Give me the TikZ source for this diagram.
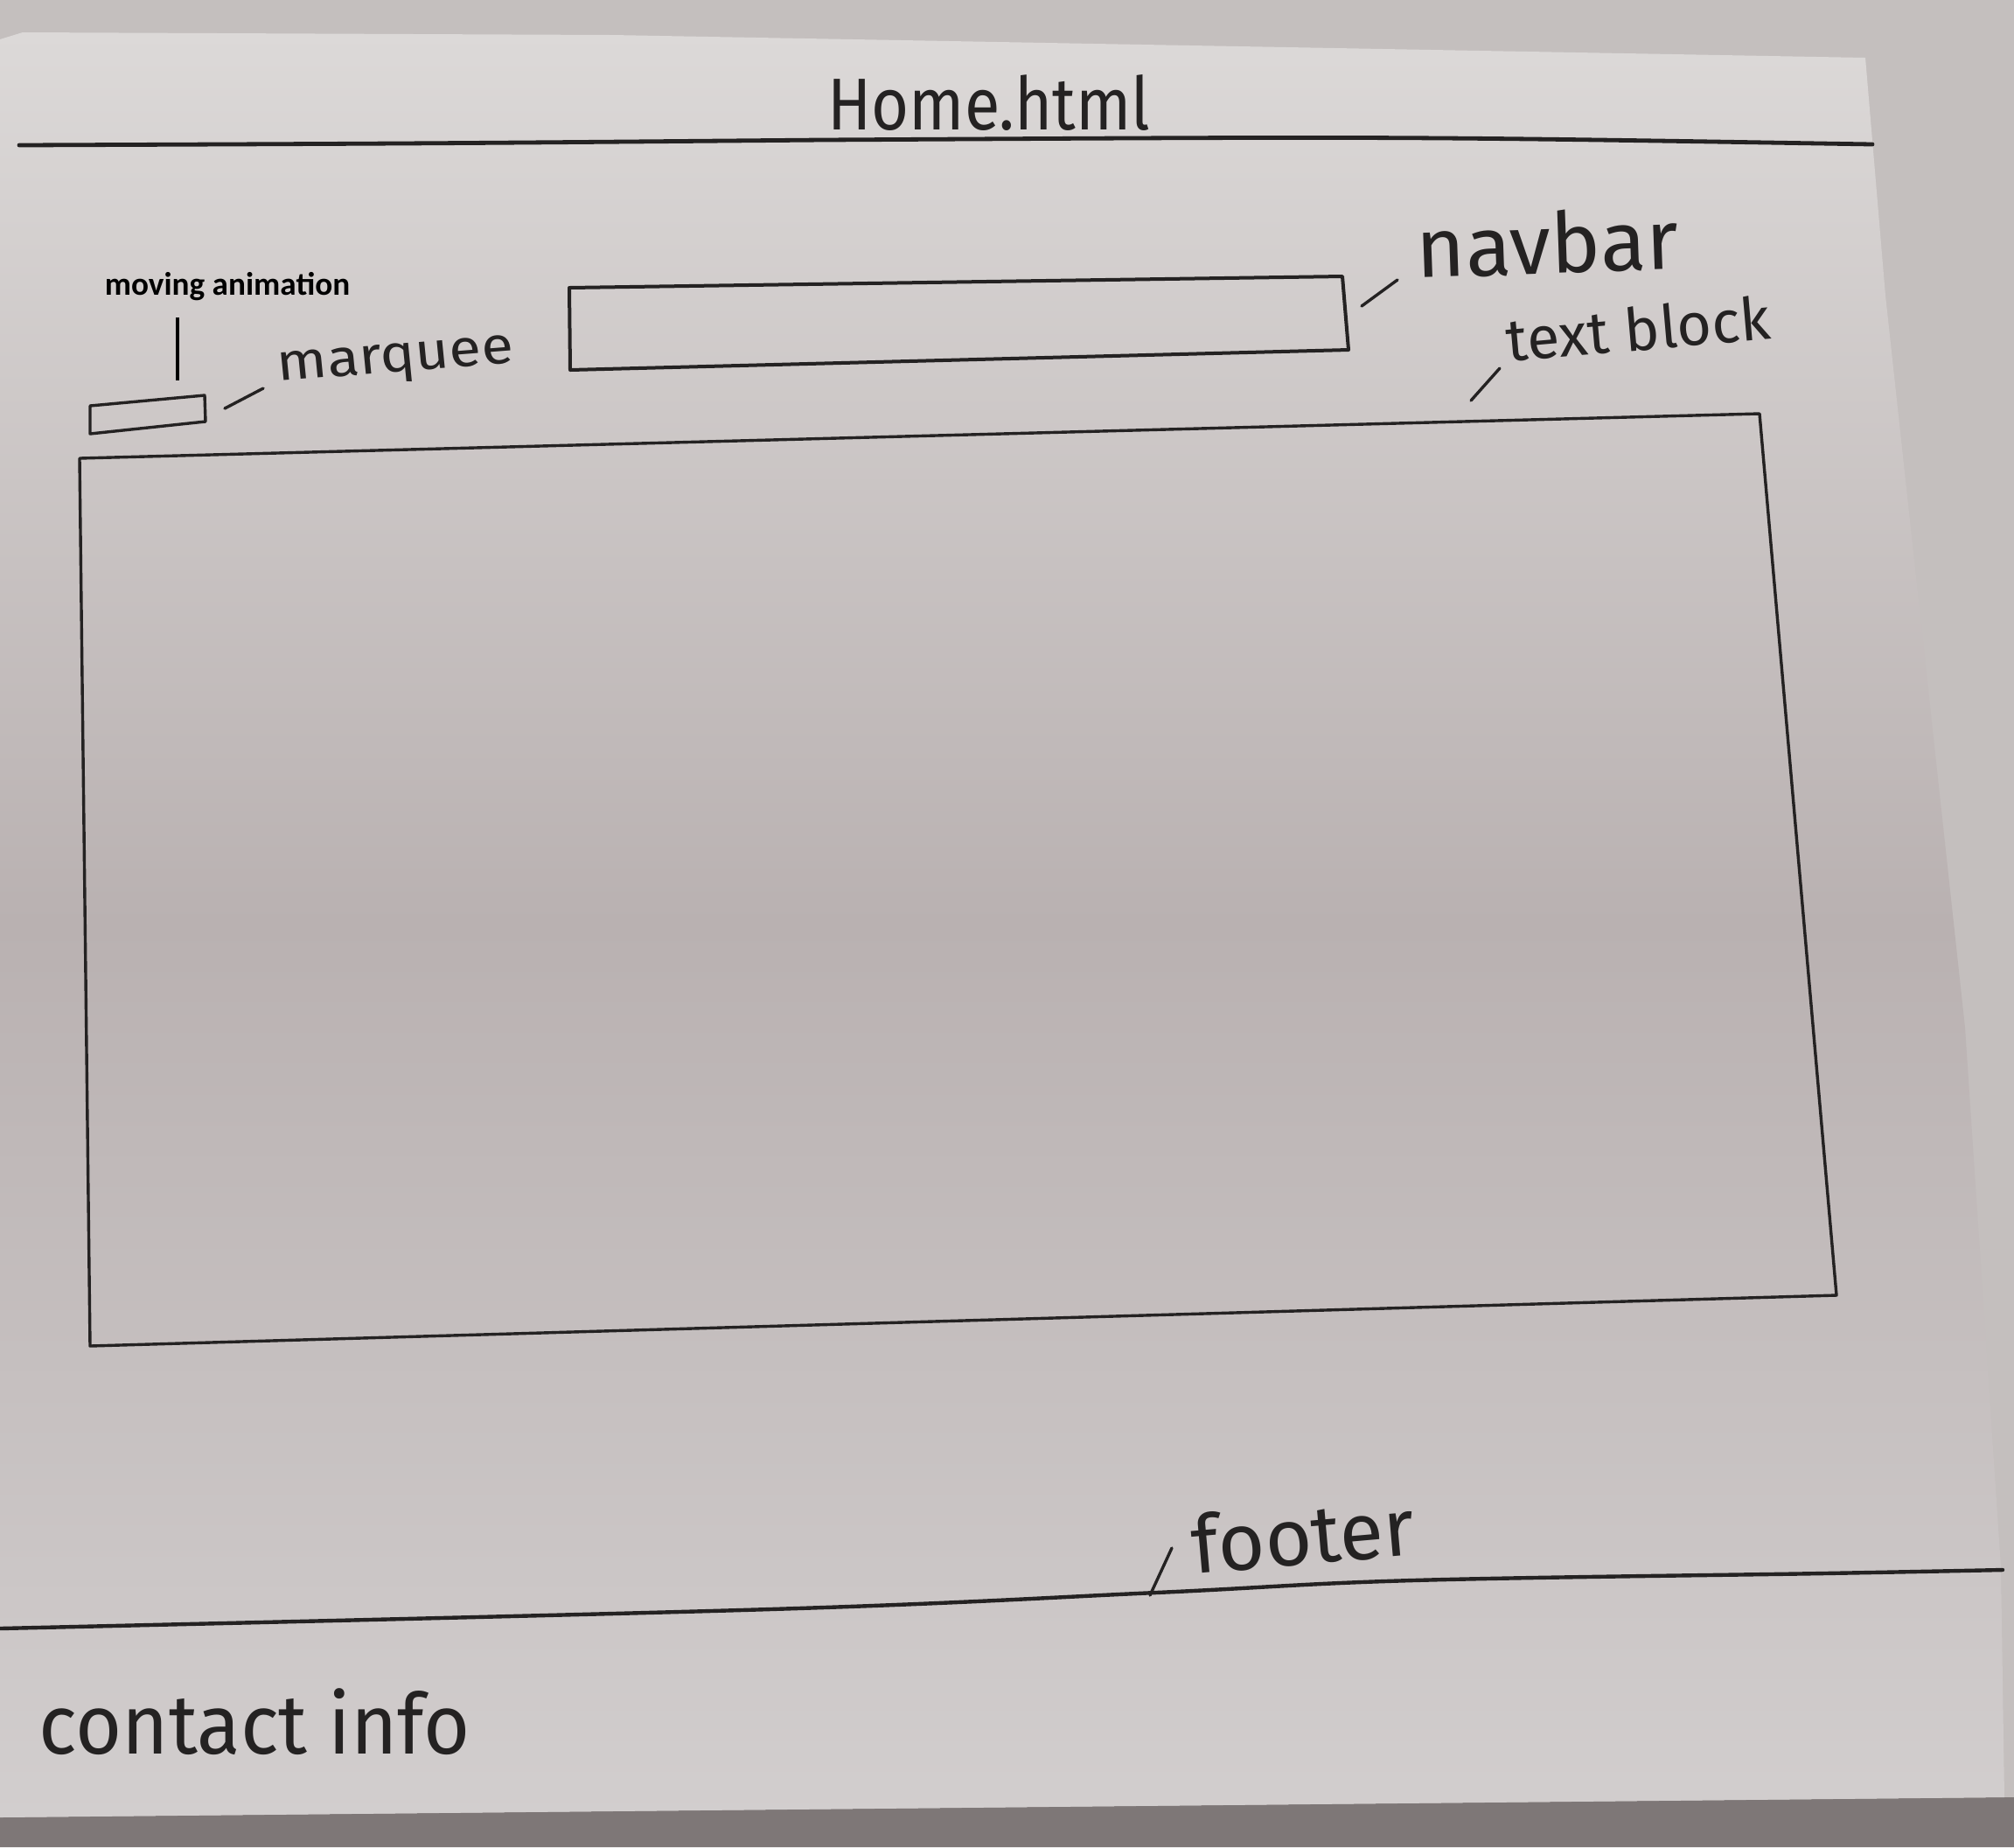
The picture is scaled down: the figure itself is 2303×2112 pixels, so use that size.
\documentclass[tikz,border=0pt]{standalone}
\usepackage{fontspec}
\newfontfamily\hand{Fira Sans}
\newfontfamily\typed{Carlito}
\begin{document}
\begin{tikzpicture}[x=0.25pt,y=-0.25pt,
  pen/.style={draw=ink,line width=0.85pt,line join=round,line cap=round},
  thickpen/.style={pen,line width=1.2pt},
  script/.style={inner sep=0pt,text=ink,font=\hand},
  label/.style={inner sep=0pt,text=black,font=\typed\bfseries\fontsize{9.3}{10}\selectfont}]
\definecolor{ink}{HTML}{242222}
\definecolor{wall}{HTML}{C4BFBE}
\definecolor{table}{HTML}{7E7777}
\definecolor{papertop}{HTML}{DCD9D8}
\definecolor{papermid}{HTML}{B9B1B1}
\definecolor{paperbot}{HTML}{D2CECE}
\useasboundingbox (0,0) rectangle (2303,2112);

% surroundings of the sheet
\fill[wall] (0,0) rectangle (2303,2112);
\fill[table] (0,2078) -- (2292,2055) -- (2303,2055) -- (2303,2112) -- (0,2112) -- cycle;

% the sheet of paper
\shade[top color=papertop,bottom color=paperbot,middle color=papermid]
  (0,45) -- (26,37) -- (700,40) -- (2133,66) -- (2156,338) -- (2247,1175)
  -- (2288,1792) -- (2292,2055) -- (0,2078) -- cycle;

% header rule and page title
\coordinate (hdrL) at (22,166);
\coordinate (hdrM) at (940,160);
\coordinate (hdrR) at (2141,165);
\draw[thickpen] (hdrL) .. controls (500,164) .. (hdrM) .. controls (1600,156) .. (hdrR);
\node[script,font=\hand\fontsize{21}{24}\selectfont,xscale=0.88,anchor=base] (title) at (1131,148) {Home.html};

% navbar box
\coordinate (nav1) at (651,329);
\coordinate (nav2) at (1535,316);
\coordinate (nav3) at (1542,400);
\coordinate (nav4) at (652,423);
\draw[pen,line width=1pt] (nav1) -- (nav2) -- (nav3) -- (nav4) -- cycle;
\coordinate (navA) at (1557,350);
\coordinate (navB) at (1598,320);
\draw[pen] (navA) -- (navB);
\node[script,font=\hand\fontsize{24}{27}\selectfont,rotate=2,anchor=base west] (navbar) at (1620,318) {navbar};

% marquee box
\coordinate (mq1) at (103,464);
\coordinate (mq2) at (234,452);
\coordinate (mq3) at (235,482);
\coordinate (mq4) at (103,496);
\draw[pen] (mq1) -- (mq2) -- (mq3) -- (mq4) -- cycle;
\coordinate (mqA) at (257,467);
\coordinate (mqB) at (301,444);
\draw[pen] (mqA) -- (mqB);
\node[script,font=\hand\fontsize{15}{18}\selectfont,xscale=1.12,rotate=5,anchor=base west] (marquee) at (318,436) {marquee};

% typed note above the marquee
\node[label] (moving) at (260,328) {moving animation};
\coordinate (mvA) at (203,363);
\coordinate (mvB) at (203,435);
\draw[line width=1.1pt,black] (mvA) -- (mvB);

% main text block
\coordinate (tb1) at (91,524);
\coordinate (tb2) at (2012,473);
\coordinate (tb3) at (2100,1481);
\coordinate (tb4) at (103,1539);
\draw[pen] (tb1) -- (tb2) -- (tb3) -- (tb4) -- cycle;
\coordinate (tbA) at (1682,458);
\coordinate (tbB) at (1715,421);
\draw[pen] (tbA) -- (tbB);
\node[script,font=\hand\fontsize{17}{20}\selectfont,rotate=5,anchor=base west] (textblock) at (1724,414) {text block};

% footer rule
\coordinate (ftL) at (0,1862);
\coordinate (ftR) at (2290,1795);
\draw[pen,line width=1.1pt] plot[smooth,tension=0.6] coordinates
  {(0,1862) (881,1840) (1322,1821) (1616,1807) (2086,1799) (2290,1795)};
\coordinate (ftA) at (1315,1824);
\coordinate (ftB) at (1340,1770);
\draw[pen] (ftA) -- (ftB);
\node[script,font=\hand\fontsize{23}{26}\selectfont,rotate=5,anchor=base west] (footer) at (1365,1800) {footer};

% footer content
\node[script,font=\hand\fontsize{24}{27}\selectfont,xscale=0.95,anchor=base west] (contact) at (44,2005) {contact info};
\end{tikzpicture}
\end{document}
